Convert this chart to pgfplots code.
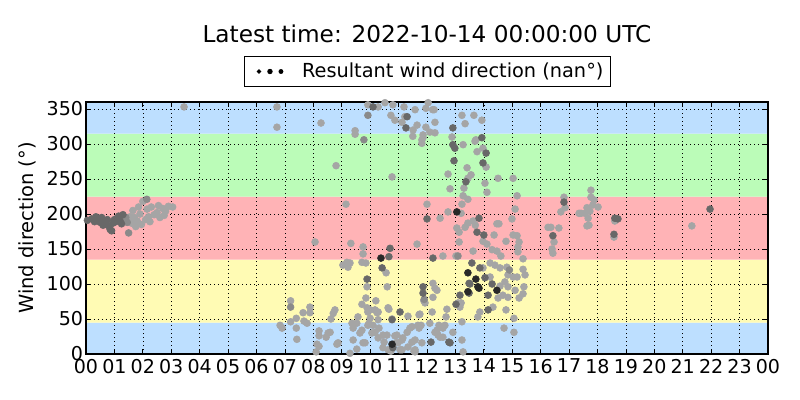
\documentclass[border=0pt]{standalone}
\usepackage{fontspec}
\setmainfont{DejaVu Sans}
\usepackage{pgfplots}
\usepackage{pgfplotstable}
\pgfplotsset{compat=1.18}
\definecolor{bandblue}{RGB}{189,223,255}
\definecolor{bandgreen}{RGB}{187,252,184}
\definecolor{bandred}{RGB}{255,179,182}
\definecolor{bandyellow}{RGB}{255,251,180}
\definecolor{ptL}{RGB}{165,165,165}
\definecolor{ptM}{RGB}{138,138,138}
\definecolor{ptD}{RGB}{104,104,104}
\definecolor{ptK}{RGB}{40,40,40}

\pgfplotstableread{
x y
1.55 196
1.6 187
1.65 205
1.7 195
1.75 182
1.8 190
1.85 210
1.9 200
1.95 185
2.0 218
2.1 192
2.15 207
2.2 196
2.25 189
2.3 210
2.4 199
2.5 202
2.55 212
2.6 195
2.7 208
2.75 198
2.8 204
2.9 211
3.05 210
3.45 353
6.72 353
6.72 324
8.27 330
8.8 269
8.06 160
6.83 41
6.9 37
7.2 76
7.2 46
7.4 51
7.4 37
7.42 21
7.64 59
7.67 47
7.78 44
7.88 67
7.88 59
8.2 33
8.2 26
8.13 14
8.2 11
8.1 3
8.45 24
8.52 30
8.59 31
8.62 50
8.7 58
8.76 63
8.83 14
8.87 16
9.15 214
9.47 319
9.47 314
9.92 356
10.28 353
10.52 359
10.8 356
10.73 341
10.87 334
11.19 353
11.12 331
11.58 349
11.51 320
11.5 311
11.65 327
11.82 306
11.86 313
11.96 324
11.96 351
12.2 349
12.1 317
12.28 331
12.28 316
10.77 253
12.04 359
11.22 339
11.86 309
11.82 301
9.32 158
9.75 153
9.75 143
10.56 116
10.6 96
9.04 127
9.18 131
9.22 124
9.71 131
9.85 130
12.46 194
11.65 157
12.56 140
13.02 140
13.13 174
9.29 130
12.0 214
9.4 37
9.4 20
9.53 44
9.57 53
9.64 30
9.82 16
9.53 7
9.71 71
9.85 80
9.89 66
10.0 51
9.92 41
10.2 76
10.17 63
10.1 41
10.28 49
10.17 31
10.31 37
10.28 23
10.63 66
10.59 27
10.63 6
10.87 26
10.98 16
11.12 6
11.15 23
11.33 54
11.3 31
11.47 17
11.54 4
11.72 56
11.72 37
11.79 41
11.89 76
11.93 73
12.18 60
12.21 101
12.21 81
12.28 94
12.1 44
12.35 34
12.39 27
9.29 1
10.24 59
10.0 63
11.75 57
9.89 96
9.36 44
9.71 34
9.75 16
9.96 44
9.92 60
10.28 60
10.06 30
10.45 27
10.49 17
10.45 9
10.66 64
10.77 50
10.73 4
10.94 27
10.91 16
11.05 6
11.47 39
11.58 6
11.58 20
12.35 91
12.28 31
12.46 39
12.63 41
12.56 24
12.91 31
13.23 20
13.27 3
11.68 41
11.4 37
11.33 10
11.58 3
11.82 16
11.12 20
12.46 24
12.56 37
12.42 41
12.7 64
12.67 53
13.09 73
13.2 73
13.16 67
13.23 46
13.23 341
13.65 341
13.93 334
13.34 329
12.88 310
13.27 299
13.69 304
13.97 294
13.76 289
13.41 266
14.08 267
12.74 257
13.55 256
13.44 251
14.04 244
13.3 237
12.81 236
14.11 231
14.5 251
15.03 251
13.27 226
13.44 221
15.17 226
13.23 214
15.1 207
12.74 203
13.2 201
13.44 187
13.62 190
14.46 186
14.53 186
14.99 193
13.05 180
13.34 181
13.7 184
14.36 170
15.03 170
15.17 169
13.13 160
13.97 161
14.11 157
14.78 161
15.24 160
14.29 149
14.46 147
15.2 153
15.2 146
15.38 136
14.6 140
13.62 147
12.25 349
13.72 306
13.97 123
14.22 130
14.39 127
14.57 123
14.81 124
15.03 110
15.38 121
15.17 110
15.45 113
14.22 110
14.57 97
14.74 103
14.85 113
14.85 96
14.67 84
14.85 81
15.1 91
15.41 96
15.38 86
15.24 80
14.5 80
14.32 67
13.86 60
13.79 53
14.78 63
15.06 51
14.71 37
15.06 31
16.82 224
16.86 209
16.71 203
16.26 181
16.36 181
16.64 180
16.47 160
16.4 150
16.43 144
17.77 234
17.77 224
17.88 220
17.84 213
17.63 209
17.73 204
17.42 201
17.56 201
17.67 194
18.02 210
17.63 183
17.7 184
18.61 190
18.58 167
21.32 183
17.35 201
}\ptlight

\pgfplotstableread{
x y
1.4 195
1.45 188
1.5 173
2.14 221
7.2 67
9.78 306
9.92 341
11.9 78
13.09 140
14.9 120
}\ptmid

\pgfplotstableread{
x y
0.05 191
0.2 193
0.3 189
0.35 196
0.4 192
0.5 188
0.55 195
0.6 184
0.65 190
0.7 186
0.75 192
0.8 183
0.85 178
0.9 176
0.95 187
1.0 192
1.05 189
1.1 194
1.15 197
1.2 190
1.25 186
1.3 199
10.1 353
11.3 339
11.26 323
10.7 151
10.66 139
10.42 123
9.89 107
12.0 193
12.21 137
11.86 96
11.86 87
12.14 17
11.05 60
10.8 9
12.91 323
12.91 299
12.98 294
13.93 309
14.08 287
12.95 276
13.97 273
13.37 246
13.83 194
13.76 174
14.0 170
13.58 130
13.48 101
13.16 84
13.51 100
13.86 123
14.04 109
14.29 100
14.15 84
14.15 63
13.02 71
12.81 16
12.77 17
10.77 49
13.48 87
16.82 217
16.43 169
18.61 194
18.72 193
18.58 171
21.96 207
}\ptdark

\pgfplotstableread{
x y
10.38 137
10.77 14
13.05 203
13.44 116
13.72 107
13.44 89
13.79 96
13.83 94
14.46 91
}\ptblack

\begin{document}
\begin{tikzpicture}
\begin{axis}[
  name=ax, at={(0,0)}, anchor=south west,
  scale only axis, width=511.5pt, height=189pt,
  set layers,
  xmin=0, xmax=24, ymin=0, ymax=360,
  xtick={0,1,...,24},
  xticklabels={00,01,02,03,04,05,06,07,08,09,10,11,12,13,14,15,16,17,18,19,20,21,22,23,00},
  ytick={0,50,...,350},
  grid=major,
  major grid style={black, line width=0.5pt, dash pattern=on 0.8pt off 2.2pt},
  tick align=inside,
  major tick length=3.5pt,
  tick style={black, line width=0.6pt},
  axis line style={black, line width=0.8pt},
  /pgf/number format/assume math mode=true,
  ticklabel style={font=\fontsize{14.3}{16}\selectfont},
  xticklabel style={inner sep=3.5pt},
  yticklabel style={inner sep=2pt},
  ylabel={Wind direction (°)},
  every axis y label/.style={at={(axis description cs:-0.0855,0.5)}, rotate=90, anchor=center, font=\fontsize{14.6}{17}\selectfont},
  title={Latest time: 2022-10-14 00:00:00 UTC},
  every axis title/.style={at={(axis description cs:0.5,1.2698)}, anchor=center, font=\fontsize{17.4}{20}\selectfont},
  legend style={at={(axis description cs:0.5,1.121)}, anchor=center, draw=black, line width=0.6pt,
    font=\fontsize{14.5}{17}\selectfont, inner xsep=3pt, inner ysep=3pt},
  legend cell align=left,
]
\addplot[on layer=axis background, draw=none, fill=bandblue, forget plot] coordinates {(0,0) (24,0) (24,45) (0,45) (0,0)};
\addplot[on layer=axis background, draw=none, fill=bandyellow, forget plot] coordinates {(0,45) (24,45) (24,135) (0,135) (0,45)};
\addplot[on layer=axis background, draw=none, fill=bandred, forget plot] coordinates {(0,135) (24,135) (24,225) (0,225) (0,135)};
\addplot[on layer=axis background, draw=none, fill=bandgreen, forget plot] coordinates {(0,225) (24,225) (24,315) (0,315) (0,225)};
\addplot[on layer=axis background, draw=none, fill=bandblue, forget plot] coordinates {(0,315) (24,315) (24,360) (0,360) (0,315)};

\addplot[only marks, mark=*, mark size=2.6pt, color=ptL, forget plot] table {\ptlight};
\addplot[only marks, mark=*, mark size=2.6pt, color=ptM, forget plot] table {\ptmid};
\addplot[only marks, mark=*, mark size=2.6pt, color=ptD, forget plot] table {\ptdark};
\addplot[only marks, mark=*, mark size=2.6pt, color=ptK, forget plot] table {\ptblack};

\addlegendimage{legend image code/.code={
  \path (-8pt,0pt) (30pt,0pt);
  \fill[black] (0pt,0pt) circle (1.3pt);
  \fill[black] (8.25pt,0pt) circle (1.7pt);
  \fill[black] (16.5pt,0pt) circle (1.5pt);
}}
\addlegendentry{Resultant wind direction (nan°)}
\end{axis}
\pgfresetboundingbox
\path[use as bounding box] ([shift={(-64.5pt,-34.5pt)}]ax.south west) rectangle ++(600pt,300pt);
\end{tikzpicture}
\end{document}
